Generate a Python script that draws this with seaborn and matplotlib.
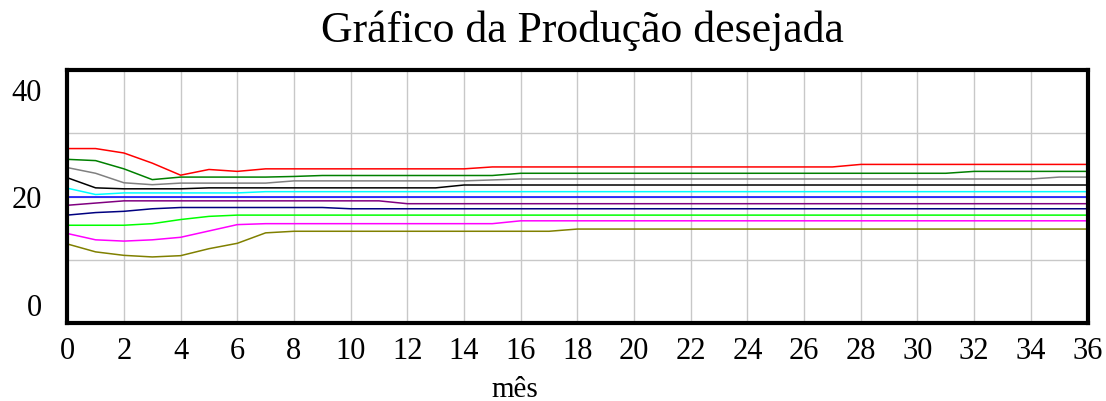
import numpy as np
import pandas as pd
import matplotlib
matplotlib.use("Agg")
import matplotlib.pyplot as plt
import matplotlib.transforms as mtransforms
import seaborn as sns

# ---------------- data ----------------
meses = list(range(0, 37))

serie_vermelha = [27.6, 27.6, 26.9, 25.3, 23.4, 24.3, 24.0,
                  24.4, 24.4, 24.4, 24.4, 24.4, 24.4, 24.4, 24.4,
                  24.7, 24.7, 24.7, 24.7, 24.7, 24.7, 24.7, 24.7, 24.7, 24.7, 24.7, 24.7, 24.7,
                  25.1, 25.1, 25.1, 25.1, 25.1, 25.1, 25.1, 25.1, 25.1]
serie_verde = [25.9, 25.7, 24.4, 22.7, 23.1, 23.1, 23.1, 23.1, 23.2,
               23.35, 23.35, 23.35, 23.35, 23.35, 23.35, 23.35,
               23.7, 23.7, 23.7, 23.7, 23.7, 23.7, 23.7, 23.7, 23.7, 23.7, 23.7, 23.7, 23.7, 23.7, 23.7, 23.7,
               24.0, 24.0, 24.0, 24.0, 24.0]
serie_cinza = [24.6, 23.7, 22.2, 21.9, 22.15, 22.15, 22.15, 22.15,
               22.5, 22.5, 22.5, 22.5, 22.5, 22.5, 22.5, 22.65,
               22.8, 22.8, 22.8, 22.8, 22.8, 22.8, 22.8, 22.8, 22.8, 22.8, 22.8, 22.8, 22.8, 22.8, 22.8, 22.8, 22.8, 22.8, 22.8,
               23.1, 23.1]
serie_preta = [23.0, 21.4, 21.25, 21.25, 21.25,
               21.4, 21.4, 21.4, 21.4, 21.4, 21.4, 21.4, 21.4, 21.4,
               21.85, 21.85, 21.85, 21.85, 21.85, 21.85, 21.85, 21.85, 21.85, 21.85, 21.85, 21.85,
               21.85, 21.85, 21.85, 21.85, 21.85, 21.85, 21.85, 21.85, 21.85, 21.85, 21.85]
serie_ciano = [21.35, 20.35, 20.6, 20.6, 20.6, 20.6, 20.6,
               20.8, 20.8, 20.8, 20.8, 20.8, 20.8, 20.8, 20.8, 20.8, 20.8, 20.8, 20.8, 20.8, 20.8,
               20.8, 20.8, 20.8, 20.8, 20.8, 20.8, 20.8, 20.8, 20.8, 20.8, 20.8, 20.8, 20.8, 20.8, 20.8, 20.8]
serie_azul = [20.0, 20.0, 20.0, 20.0, 20.0, 20.0, 20.0, 20.0, 20.0, 20.0, 20.0, 20.0, 20.0,
              20.0, 20.0, 20.0, 20.0, 20.0, 20.0, 20.0, 20.0, 20.0, 20.0, 20.0, 20.0,
              20.0, 20.0, 20.0, 20.0, 20.0, 20.0, 20.0, 20.0, 20.0, 20.0, 20.0, 20.0]
serie_roxa = [18.65, 19.0,
              19.35, 19.35, 19.35, 19.35, 19.35, 19.35, 19.35, 19.35, 19.35, 19.35,
              18.9, 18.9, 18.9, 18.9, 18.9, 18.9, 18.9, 18.9, 18.9, 18.9, 18.9, 18.9, 18.9,
              18.9, 18.9, 18.9, 18.9, 18.9, 18.9, 18.9, 18.9, 18.9, 18.9, 18.9, 18.9]
serie_marinho = [17.1, 17.5, 17.7, 18.1,
                 18.3, 18.3, 18.3, 18.3, 18.3, 18.3,
                 18.1, 18.1, 18.1, 18.1, 18.1, 18.1, 18.1, 18.1, 18.1, 18.1, 18.1, 18.1, 18.1, 18.1,
                 18.1, 18.1, 18.1, 18.1, 18.1, 18.1, 18.1, 18.1, 18.1, 18.1, 18.1, 18.1, 18.1]
serie_lima = [15.5, 15.5, 15.5, 15.75, 16.4, 16.9,
              17.1, 17.1, 17.1, 17.1, 17.1, 17.1, 17.1, 17.1, 17.1, 17.1, 17.1, 17.1, 17.1,
              17.1, 17.1, 17.1, 17.1, 17.1, 17.1, 17.1, 17.1, 17.1, 17.1, 17.1, 17.1, 17.1,
              17.1, 17.1, 17.1, 17.1, 17.1]
serie_magenta = [14.2, 13.2, 13.0, 13.2, 13.6, 14.6, 15.6,
                 15.75, 15.75, 15.75, 15.75, 15.75, 15.75, 15.75, 15.75, 15.75,
                 16.2, 16.2, 16.2, 16.2, 16.2, 16.2, 16.2, 16.2, 16.2, 16.2, 16.2,
                 16.2, 16.2, 16.2, 16.2, 16.2, 16.2, 16.2, 16.2, 16.2, 16.2]
serie_oliva = [12.55, 11.3, 10.75, 10.5, 10.7, 11.8, 12.65, 14.3,
               14.55, 14.55, 14.55, 14.55, 14.55, 14.55, 14.55, 14.55, 14.55, 14.55,
               14.9, 14.9, 14.9, 14.9, 14.9, 14.9, 14.9, 14.9, 14.9, 14.9,
               14.9, 14.9, 14.9, 14.9, 14.9, 14.9, 14.9, 14.9, 14.9]

nomes_series = ["s1", "s2", "s3", "s4", "s5", "s6", "s7", "s8", "s9", "s10", "s11"]
valores_series = [serie_vermelha, serie_verde, serie_cinza, serie_preta, serie_ciano,
                  serie_azul, serie_roxa, serie_marinho, serie_lima, serie_magenta, serie_oliva]
cores = ["#ff0000", "#008000", "#808080", "#000000", "#00ffff",
         "#0000ff", "#800080", "#000080", "#00ff00", "#ff00ff", "#808000"]

xticks = list(range(0, 37, 2))
yticks = [0, 10, 20, 30, 40]
ytick_labels = ["0", "", "20", "", "40"]
titulo = "Gráfico da Produção desejada"
rotulo_x = "mês"

# ---------------- plot ----------------
sns.set_style("white")
plt.rcParams["font.family"] = ["Liberation Serif", "DejaVu Serif"]
plt.rcParams["text.color"] = "black"
plt.rcParams["axes.labelcolor"] = "black"
plt.rcParams["xtick.color"] = "black"
plt.rcParams["ytick.color"] = "black"

linhas = []
for nome, vals in zip(nomes_series, valores_series):
    for m, v in zip(meses, vals):
        linhas.append({"mes": m, "valor": v, "serie": nome})
df = pd.DataFrame(linhas)

fig = plt.figure(figsize=(11.06, 4.01), dpi=100)
ax = fig.add_axes([0.0608, 0.1933, 0.9225, 0.6322])

sns.lineplot(data=df, x="mes", y="valor", hue="serie", hue_order=nomes_series,
             palette=cores, legend=False, linewidth=1.1, errorbar=None, ax=ax)

ax.set_xlim(0, 36)
ax.set_ylim(0, 40)
ax.set_xticks(xticks)
ax.set_yticks(yticks)
ax.set_yticklabels(ytick_labels)
ax.set_axisbelow(True)
ax.grid(True, color="#c8c8c8", linewidth=1.0)
for s in ax.spines.values():
    s.set_visible(True)
    s.set_color("black")
    s.set_linewidth(3.0)

ax.tick_params(axis="both", length=0, labelsize=22, colors="black")
ax.tick_params(axis="y", pad=18)
ax.tick_params(axis="x", pad=10)

# Vensim-style: top/bottom y labels shifted inward
for lab in ax.get_yticklabels():
    t = lab.get_text()
    if t == "40":
        dy = -0.205
    elif t == "0":
        dy = 0.185
    else:
        dy = 0.0
    lab.set_transform(lab.get_transform() + mtransforms.ScaledTranslation(0, dy, fig.dpi_scale_trans))

ax.set_xlabel(rotulo_x, fontsize=21, color="black")
ax.xaxis.label.set_verticalalignment("baseline")
ax.xaxis.set_label_coords(0.439, -0.29)
ax.set_ylabel("")
ax.set_title(titulo, fontsize=31.5, pad=20, x=0.505, color="black")

fig.savefig("out.png", dpi=100)
